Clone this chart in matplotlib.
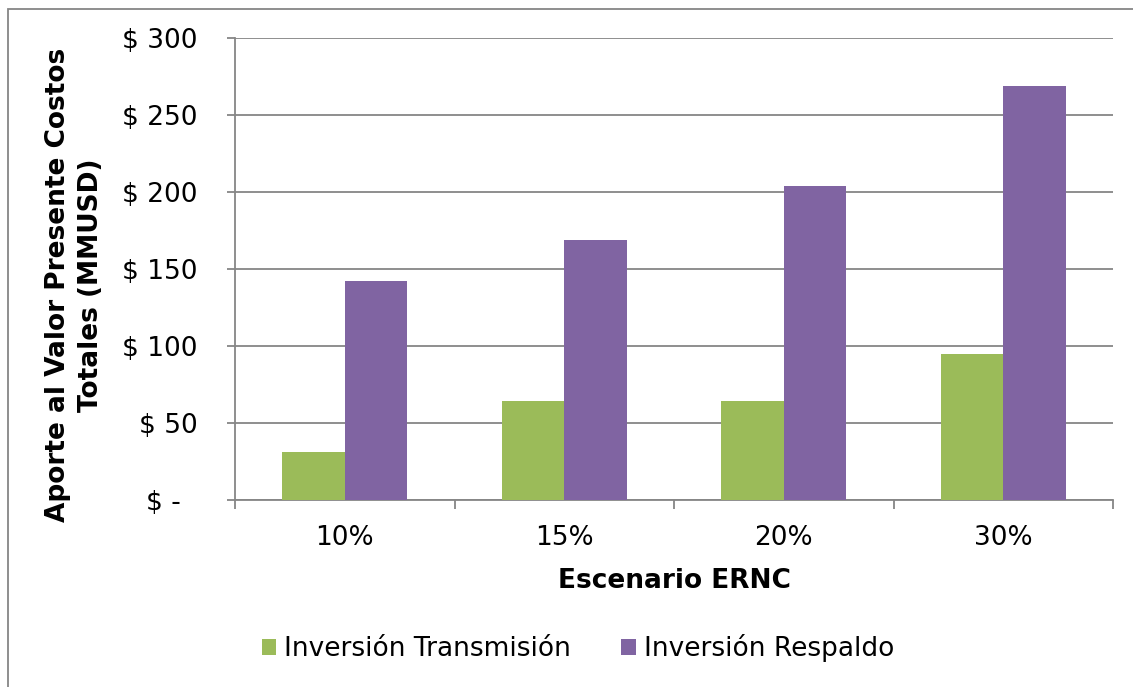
import matplotlib.pyplot as plt
import numpy as np
from matplotlib.patches import Rectangle

# Datos por escenario (MMUSD)
escenarios = ['10%', '15%', '20%', '30%']
inv_transmision = [31, 64, 64, 95]
inv_respaldo = [142, 169, 204, 269]
ticks_y = [0, 50, 100, 150, 200, 250, 300]
etiquetas_y = ['$ -  ', '$ 50', '$ 100', '$ 150', '$ 200', '$ 250', '$ 300']

VERDE = '#9BBB59'
MORADO = '#8064A2'
GRIS = '#868686'
FS = 19

plt.rcParams['font.family'] = ['DejaVu Sans']

fig = plt.figure(figsize=(11.33, 6.87), dpi=100)
ax = fig.add_axes([235 / 1133, 1 - 500 / 687, (1113 - 235) / 1133, (500 - 38) / 687])

x = np.arange(len(escenarios))
ancho = 0.285
ax.bar(x - ancho / 2, inv_transmision, ancho, color=VERDE, label='Inversión Transmisión', zorder=3)
ax.bar(x + ancho / 2, inv_respaldo, ancho, color=MORADO, label='Inversión Respaldo', zorder=3)

ax.set_xlim(-0.5, len(escenarios) - 0.5)
ax.set_ylim(0, 300)
ax.set_yticks(ticks_y)
ax.set_yticklabels(etiquetas_y, fontsize=FS)
ax.yaxis.grid(True, color=GRIS, linewidth=1.3, zorder=0)

# ticks de categoría en los bordes, etiquetas en el centro
ax.set_xticks(np.arange(len(escenarios) + 1) - 0.5)
ax.set_xticklabels([])
ax.set_xticks(x, minor=True)
ax.set_xticklabels(escenarios, minor=True, fontsize=FS)
ax.tick_params(axis='x', which='minor', length=0, pad=18)
ax.tick_params(axis='x', which='major', length=6.5, color=GRIS, width=1.3)
ax.tick_params(axis='y', length=5.8, color=GRIS, width=1.3, pad=21)

for lado in ['top', 'right']:
    ax.spines[lado].set_visible(False)
for lado in ['left', 'bottom']:
    ax.spines[lado].set_color(GRIS)
    ax.spines[lado].set_linewidth(1.3)

ax.set_xlabel('Escenario ERNC', fontsize=FS, fontweight='bold', labelpad=12)
fig.text(75 / 1133, 1 - 285 / 687, 'Aporte al Valor Presente Costos\nTotales (MMUSD)',
         rotation=90, fontsize=FS, fontweight='bold', ha='center', va='center',
         multialignment='center', linespacing=1.35)

ax.legend(loc='center', bbox_to_anchor=(0.51, 1 - 648 / 687), bbox_transform=fig.transFigure,
          ncol=2, frameon=False, fontsize=FS, handlelength=0.55, handleheight=0.55,
          handletextpad=0.3, columnspacing=1.9)

# marco del área del gráfico
fig.patches.append(Rectangle((8 / 1133, -0.01), 1.02, 1 - 9 / 687 + 0.01, transform=fig.transFigure,
                             fill=False, edgecolor=GRIS, linewidth=1.3))

fig.savefig('out.png', dpi=100)
